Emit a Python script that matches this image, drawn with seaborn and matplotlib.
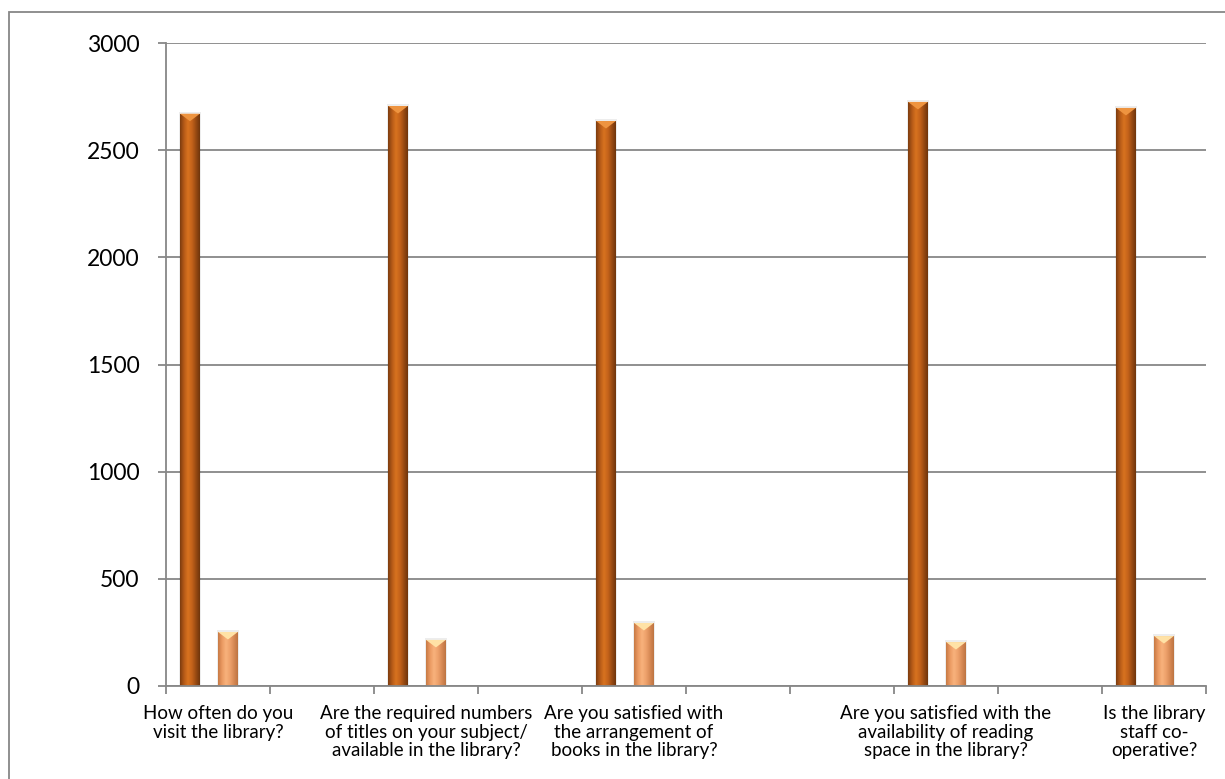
import numpy as np
import pandas as pd
import seaborn as sns
import matplotlib.pyplot as plt
from matplotlib.colors import LinearSegmentedColormap
from matplotlib.patches import Rectangle, Polygon


# ten category slots on the axis, only five of them carry answers
SLOTS = [f"Q{i}" for i in range(1, 11)]
SERIES = ["Yes", "No"]
YES_COUNTS = [2670, np.nan, 2706, np.nan, 2636, np.nan, np.nan, 2725, np.nan, 2697]
NO_COUNTS = [252, np.nan, 215, np.nan, 294, np.nan, np.nan, 205, np.nan, 233]
SLOT_LABELS = [
    "How often do you\nvisit the library?",
    "",
    "Are the required numbers\nof titles on your subject/\navailable in the library?",
    "",
    "Are you satisfied with\nthe arrangement of\nbooks in the library?",
    "",
    "",
    "Are you satisfied with the\navailability of reading\nspace in the library?",
    "",
    "Is the library\nstaff co-\noperative?",
]
Y_TICKS = [0, 500, 1000, 1500, 2000, 2500, 3000]

GRAY = "#878787"
SHADES = {
    "Yes": ["#7d3d0f", "#b65a18", "#d8731f", "#c4631b", "#9a4b13", "#6f350c"],
    "No": ["#c77a45", "#eb9a62", "#f8b27c", "#eea26c", "#d88a55", "#bd7442"],
}
CAPS = {"Yes": "#ee9440", "No": "#ffe2a6"}


def build_frame() -> pd.DataFrame:
    df = pd.DataFrame({"slot": SLOTS, "Yes": YES_COUNTS, "No": NO_COUNTS})
    df = df.melt(id_vars="slot", var_name="answer", value_name="count")
    return df.dropna()


def shade_bars(ax, container, name) -> None:
    cmap = LinearSegmentedColormap.from_list(name, SHADES[name])
    grad = np.linspace(0, 1, 64).reshape(1, -1)
    for bar in container:
        x0, w, h = bar.get_x(), bar.get_width(), bar.get_height()
        # small shadow behind the cylinder
        ax.add_patch(Rectangle((x0 - 0.012, 0), w + 0.024, h + 8, color="#000000",
                               alpha=0.07, lw=0, zorder=1.5))
        img = ax.imshow(grad, extent=[x0, x0 + w, 0, h], aspect="auto", cmap=cmap,
                        zorder=2, interpolation="bilinear")
        img.set_clip_path(bar)
        bar.set_facecolor("none")
        bar.set_edgecolor("none")
        cap = Polygon([(x0, h), (x0 + w, h), (x0 + w / 2, h - 35)], closed=True,
                      color=CAPS[name], lw=0, zorder=3)
        ax.add_patch(cap)


def main() -> None:
    sns.set_theme(style="white")
    plt.rcParams["font.family"] = ["Lato", "DejaVu Sans"]

    df = build_frame()

    fig = plt.figure(figsize=(12.25, 7.79), dpi=100)
    ax = fig.add_axes([166 / 1225, 1 - 686 / 779, (1206 - 166) / 1225, (686 - 43) / 779])

    sns.barplot(data=df, x="slot", y="count", hue="answer", order=SLOTS,
                hue_order=SERIES, width=0.73, gap=0.48, legend=False, ax=ax)

    # excel places the pair slightly left of the slot centre
    for container in ax.containers:
        for bar in container:
            bar.set_x(bar.get_x() - 0.087)

    for container, name in zip(ax.containers, SERIES):
        shade_bars(ax, container, name)

    ax.set_xlim(-0.5, len(SLOTS) - 0.5)
    ax.set_ylim(0, 3000)
    ax.set_yticks(Y_TICKS)
    ax.set_xticks(np.arange(len(SLOTS)))
    ax.set_xticklabels(SLOT_LABELS, fontsize=13.5, linespacing=1.1)
    ax.set_xticks(np.arange(len(SLOTS) + 1) - 0.5, minor=True)
    ax.set_xlabel("")
    ax.set_ylabel("")
    ax.yaxis.grid(True, color=GRAY, lw=1.3)
    ax.set_axisbelow(True)
    ax.tick_params(axis="y", length=6, width=1.3, color=GRAY, pad=13, labelsize=16.5,
                   labelcolor="black", left=True)
    ax.tick_params(axis="x", which="major", length=0, pad=14, labelcolor="black")
    ax.tick_params(axis="x", which="minor", length=6, width=1.3, color=GRAY, bottom=True)
    for side in ["top", "right"]:
        ax.spines[side].set_visible(False)
    for side in ["left", "bottom"]:
        ax.spines[side].set_color(GRAY)
        ax.spines[side].set_linewidth(1.3)

    fig.patches.append(Rectangle((9 / 1225, -0.05), 1.2, 1.05 - 12 / 779, fill=False,
                                 edgecolor=GRAY, lw=1.3, transform=fig.transFigure))

    fig.savefig("out.png", dpi=100, facecolor="white")
    plt.close(fig)


if __name__ == "__main__":
    main()
